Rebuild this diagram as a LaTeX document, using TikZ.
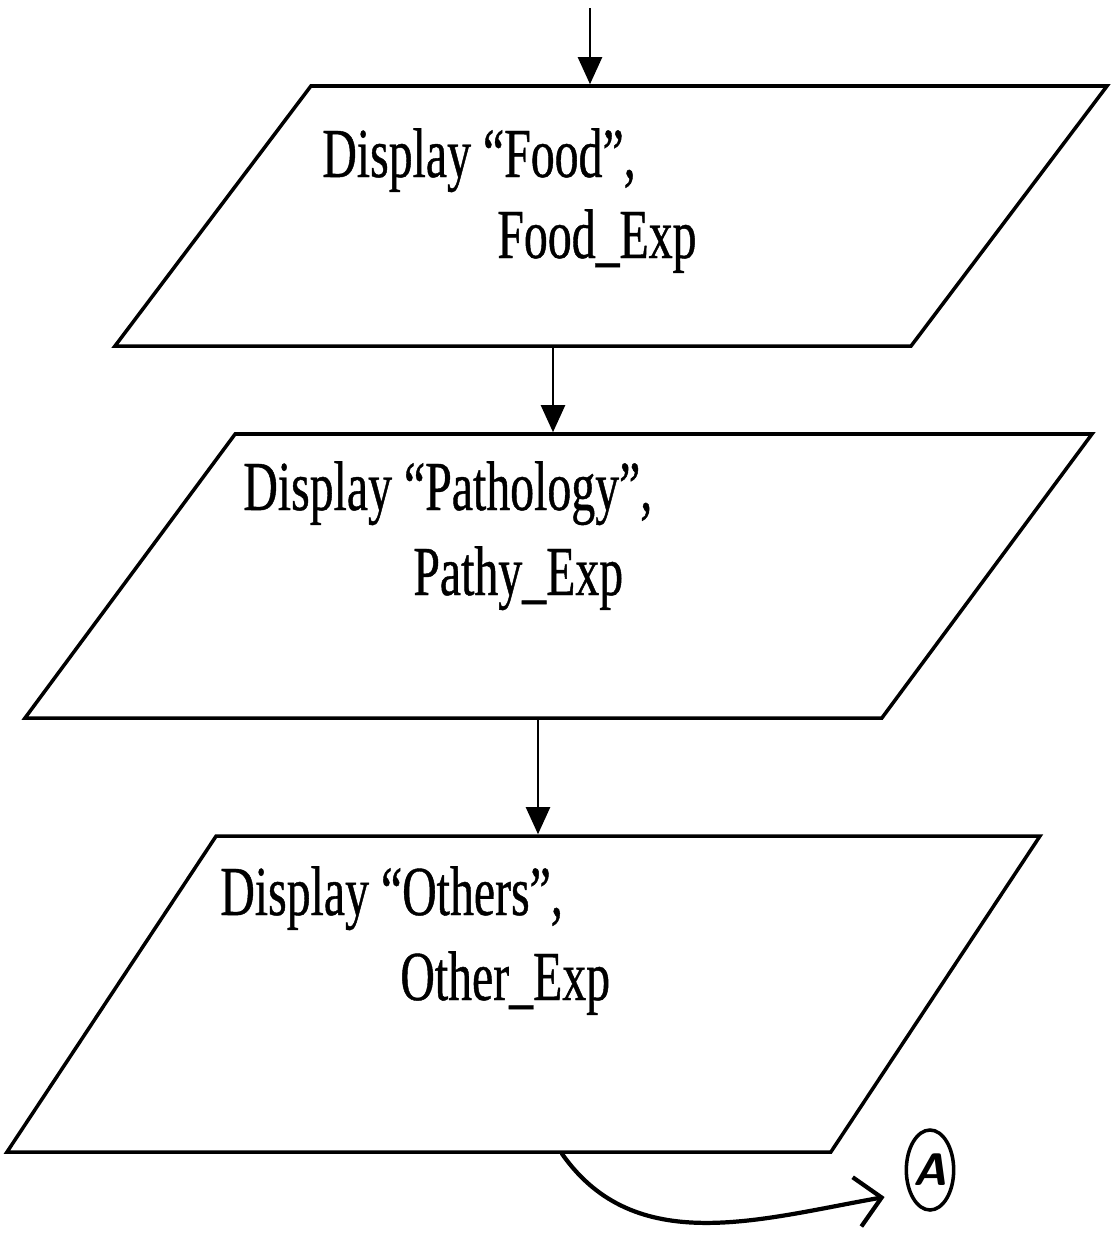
\documentclass[tikz,border=0pt]{standalone}
\usepackage{fontspec}
\setmainfont{Liberation Serif}[FakeStretch=0.68,FakeBold=0.6]
\usetikzlibrary{shapes.geometric,arrows.meta}

\tikzset{
	iobox/.style={draw, trapezium, trapezium stretches body=true, line width=2pt, inner xsep=1pt},
	flow/.style={line width=1.3pt, -{Triangle[length=5.4mm,width=4.8mm]}},
	boxtext/.style={anchor=base west, inner sep=0pt, font=\fontsize{40}{48}\selectfont},
}

\begin{document}
\begin{tikzpicture}[x=0.2mm,y=-0.2mm]
		\useasboundingbox (0,0) rectangle (1111,1247);
		\coordinate (in) at (590,8);
		% the three display boxes
		\node[iobox, trapezium left angle=53, trapezium right angle=127, minimum width=198.4mm, inner ysep=26mm] (food) at (611,216) {};
		\node[iobox, trapezium left angle=53.5, trapezium right angle=126.5, minimum width=213.4mm, inner ysep=28.4mm] (pathy) at (558.5,576) {};
		\node[iobox, trapezium left angle=56.5, trapezium right angle=123.5, minimum width=206.6mm, inner ysep=31.6mm] (other) at (523.5,994) {};
		\node[boxtext] (food1) at (322,177) {Display “Food”,};
		\node[boxtext] (food2) at (497,258) {Food\_Exp};
		\node[boxtext] (pathy1) at (243,510) {Display “Pathology”,};
		\node[boxtext] (pathy2) at (413,595) {Pathy\_Exp};
		\node[boxtext] (other1) at (220,915) {Display “Others”,};
		\node[boxtext] (other2) at (400,1000) {Other\_Exp};
		\node[draw, ellipse, line width=2pt, minimum width=9mm, minimum height=16mm, inner sep=0pt, font=\sffamily\bfseries\itshape\fontsize{26}{26}\selectfont] (A) at (930,1170) {A};
		% connectors
		\draw[flow] (in) -- (in |- food.north);
		\draw[flow] (553,0 |- food.south) -- (553,0 |- pathy.north);
		\draw[flow] (538,0 |- pathy.south) -- (538,0 |- other.north);
		\draw[line width=2.4pt, line cap=round, -{Straight Barb[length=5mm,width=10mm]}] (562,0 |- other.south) to[out=-55,in=190] ([shift={(-20,27)}]A.west);
\end{tikzpicture}
\end{document}
